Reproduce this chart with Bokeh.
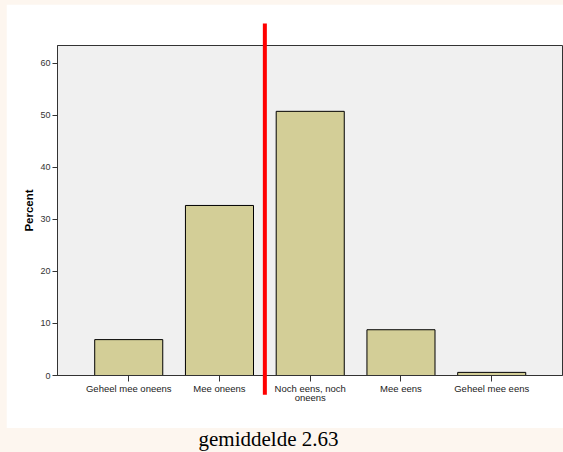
from bokeh.plotting import figure
from bokeh.models import Range1d, FixedTicker, Div, Column
from bokeh.embed import file_html
from bokeh.resources import INLINE

# ---- data ----
categories = ["Geheel mee oneens", "Mee oneens", "Noch eens, noch\noneens", "Mee eens", "Geheel mee eens"]
percent = [6.9, 32.7, 50.8, 8.8, 0.6]
y_ticks = [0, 10, 20, 30, 40, 50, 60]
marker_x = 1.5          # position of the red vertical line (category index)
caption = "gemiddelde 2.63"

# ---- styles ----
CREAM = "#fdf6ef"
BAR = "#d3ce97"
FONT = "Liberation Sans"

idx = list(range(len(categories)))

p = figure(width=557, height=424, margin=(4, 0, 0, 6),
           x_range=Range1d(-0.785, 4.78), y_range=Range1d(0, 63.46),
           output_backend="svg", toolbar_location=None,
           min_border_left=51, min_border_right=1, min_border_top=41, min_border_bottom=53)
p.border_fill_color = "white"
p.background_fill_color = "#f0f0f0"
p.outline_line_color = "#333333"
p.outline_line_width = 1
p.xgrid.visible = False
p.ygrid.visible = False

p.vbar(x=idx, top=percent, width=0.75, fill_color=BAR, line_color="black", line_width=1)

# red marker line (extends beyond the frame)
p.segment(x0=[marker_x], y0=[-3.7], x1=[marker_x], y1=[67.7],
          line_color="#ff0000", line_width=4, level="overlay")

# y axis
ya = p.yaxis[0]
ya.ticker = FixedTicker(ticks=y_ticks)
ya.minor_tick_line_color = None
ya.major_tick_in = 0
ya.major_tick_out = 5
ya.major_label_standoff = 2
ya.major_label_text_font = FONT
ya.major_label_text_font_size = "9px"
ya.major_label_text_color = "#333333"
ya.axis_line_color = "#333333"
ya.major_tick_line_color = "#333333"
ya.axis_label = "Percent"
ya.axis_label_text_font = FONT
ya.axis_label_text_font_style = "bold"
ya.axis_label_text_font_size = "11.5px"
ya.axis_label_text_color = "black"
ya.axis_label_standoff = 2

# x axis
xa = p.xaxis[0]
xa.ticker = FixedTicker(ticks=idx)
xa.major_label_overrides = {i: c for i, c in zip(idx, categories)}
xa.minor_tick_line_color = None
xa.major_tick_in = 0
xa.major_tick_out = 6
xa.major_label_standoff = 1
xa.major_label_text_font = FONT
xa.major_label_text_font_size = "9.5px"
xa.major_label_text_line_height = 0.9
xa.major_label_text_color = "#222222"
xa.axis_line_color = "#333333"
xa.major_tick_line_color = "#333333"

cap = Div(text=caption, width=537, height=24, margin=(0, 0, 0, 0),
          styles={"font-family": "Liberation Serif", "font-size": "21px",
                  "text-align": "center", "color": "black", "line-height": "23px",
                  "width": "537px"})

layout = Column(p, cap, width=563, height=452, spacing=0,
                styles={"background-color": CREAM})

open("out.html", "w").write(file_html(layout, INLINE))
